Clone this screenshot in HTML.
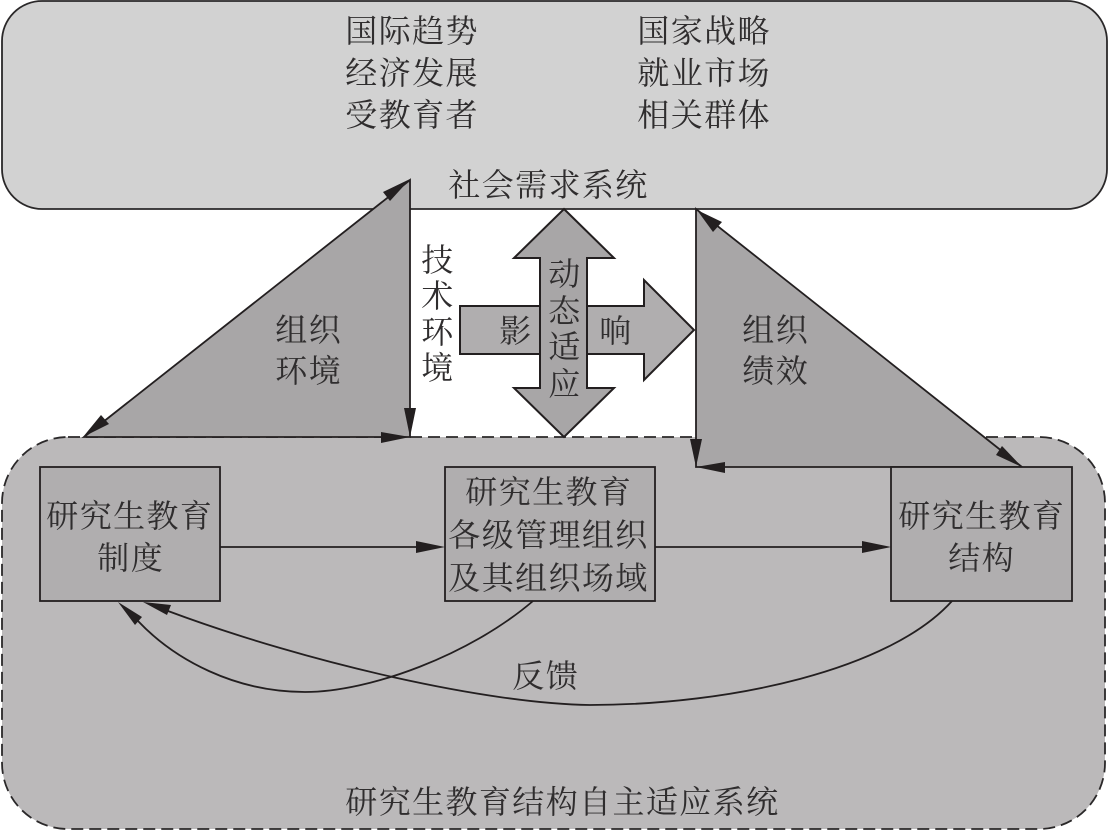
<!DOCTYPE html>
<html lang="zh">
<head>
<meta charset="utf-8">
<style>
html,body{margin:0;padding:0;background:#fff;width:1109px;height:832px;overflow:hidden}
svg{display:block}
text{font-family:"Liberation Serif","Noto Serif CJK SC",serif;font-size:32px;fill:#2f2d2e;letter-spacing:1.4px}
</style>
</head>
<body>
<svg width="1109" height="832" viewBox="0 0 1109 832" xmlns="http://www.w3.org/2000/svg">
<rect x="2" y="1" width="1105" height="208" rx="40" ry="40" fill="#d2d2d2" stroke="#2a2829" stroke-width="1.8"/>
<rect x="2" y="437" width="1103" height="392" rx="66" ry="66" fill="#bbb9ba" stroke="#2a2829" stroke-width="1.8" stroke-dasharray="12 6"/>

<polygon points="84,437 410,180 410,437" fill="#a8a6a7" stroke="#231f20" stroke-width="1.8"/>
<polygon points="696,209 696,467 1022,467" fill="#a8a6a7" stroke="#231f20" stroke-width="1.8"/>

<polygon points="460,306 644,306 644,280 694,330 644,380 644,354 460,354" fill="#b0aeaf" stroke="#231f20" stroke-width="2"/>
<polygon points="564,209 614,258 587,258 587,388 614,388 564,437 514,388 540,388 540,258 514,258" fill="#a8a6a7" stroke="#231f20" stroke-width="2"/>

<rect x="40" y="467" width="180" height="134" fill="#b0aeaf" stroke="#231f20" stroke-width="1.8"/>
<rect x="445" y="467" width="210" height="134" fill="#b0aeaf" stroke="#231f20" stroke-width="1.8"/>
<rect x="891" y="467" width="181" height="134" fill="#b0aeaf" stroke="#231f20" stroke-width="1.8"/>

<g fill="#231f20">
<polygon points="410,179 390,201 383,192"/>
<polygon points="83,437 101,415 109,424"/>
<polygon points="410,437 404,408 416,408"/>
<polygon points="410,437 381,432 381,443"/>
<polygon points="697,210 722,222 713,232"/>
<polygon points="1022,467 1002,446 996,455"/>
<polygon points="696,467 690,439 702,439"/>
<polygon points="696,467 725,462 725,473"/>
<polygon points="445,547 416,541 416,553"/>
<polygon points="891,547 862,541 862,553"/>
<polygon points="118,602 142,617 135,625"/>
<polygon points="143,602 171,605 167,615"/>
</g>
<g fill="none" stroke="#231f20" stroke-width="1.8">
<path d="M220,547H420M655,547H866"/>
<path d="M533,601C470,655 370,692 305,692C235,692 175,660 138,621"/>
<path d="M952,601C890,670 730,705 590,705C490,704 310,664 168,611"/>
</g>

<g transform="translate(-0.7,0)">
<text x="346" y="42">国际趋势</text>
<text x="346" y="84">经济发展</text>
<text x="346" y="126">受教育者</text>
<text x="638" y="42">国家战略</text>
<text x="638" y="84">就业市场</text>
<text x="638" y="126">相关群体</text>
<text x="449" y="196">社会需求系统</text>

<text x="422" y="271">技</text>
<text x="422" y="307">术</text>
<text x="422" y="343">环</text>
<text x="422" y="379">境</text>

<text x="276" y="341">组织</text>
<text x="276" y="382">环境</text>
<text x="743" y="341">组织</text>
<text x="743" y="382">绩效</text>

<text x="500" y="342">影</text>
<text x="600" y="342">响</text>
<text x="549" y="285">动</text>
<text x="549" y="322">态</text>
<text x="549" y="358">适</text>
<text x="549" y="395">应</text>

<text x="47" y="527">研究生教育</text>
<text x="98" y="569">制度</text>
<text x="466" y="503">研究生教育</text>
<text x="449" y="546">各级管理组织</text>
<text x="449" y="589">及其组织场域</text>
<text x="899" y="527">研究生教育</text>
<text x="949" y="569">结构</text>

<text x="513" y="687">反馈</text>
<text x="346" y="813">研究生教育结构自主适应系统</text>
</g>
</svg>
</body>
</html>
